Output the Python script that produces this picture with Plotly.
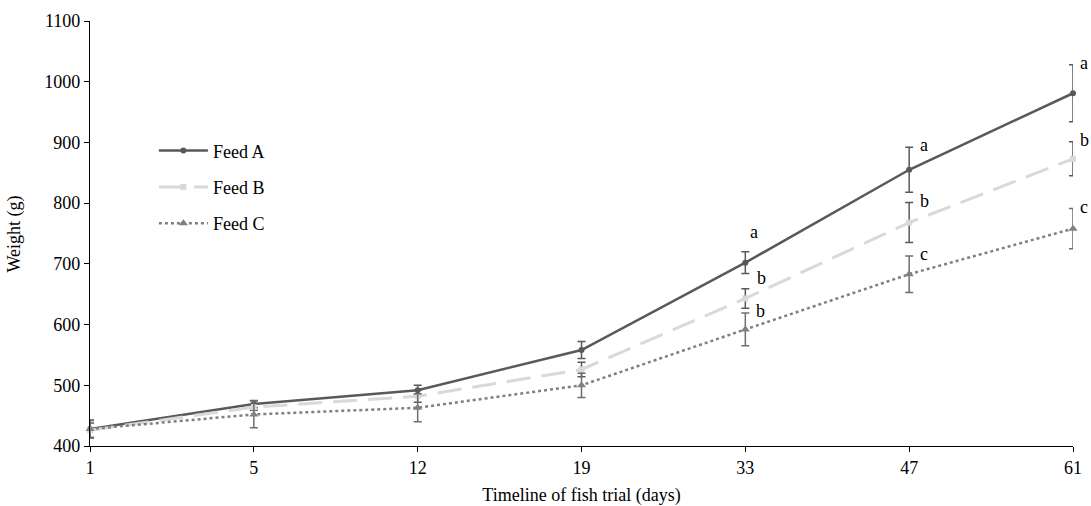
import plotly.graph_objects as go

days = ["1", "5", "12", "19", "33", "47", "61"]
feed_a = [428, 469, 492, 558, 702, 855, 981]
feed_a_err = [15, 6, 8, 14, 18, 37, 47]
feed_b = [426, 464, 482, 526, 643, 768, 873]
feed_b_err = [12, 5, 10, 12, 16, 33, 28]
feed_c = [428, 452, 463, 500, 592, 683, 758]
feed_c_err = [14, 22, 23, 20, 27, 30, 33]

letters_a = ["", "", "", "", "a", "a", "a"]
letters_b = ["", "", "", "", "b", "b", "b"]
letters_c = ["", "", "", "", "b", "c", "c"]

font_family = "Liberation Serif, Times New Roman, serif"
FS = 18

fig = go.Figure()

series = [
    ("Feed A", feed_a, feed_a_err, dict(color="#595959", width=2.5, dash="solid"),
     dict(symbol="circle", size=6, color="#595959"), "#595959"),
    ("Feed B", feed_b, feed_b_err, dict(color="#d9d9d9", width=3, dash="24px,11px"),
     dict(symbol="square", size=6, color="#d9d9d9"), "#595959"),
    ("Feed C", feed_c, feed_c_err, dict(color="#808080", width=2.5, dash="dot"),
     dict(symbol="triangle-up", size=8, color="#808080"), "#6e6e6e"),
]

for i, (name, vals, errs, line, marker, ecol) in enumerate(series):
    fig.add_trace(go.Scatter(
        x=days, y=vals, name=name, mode="lines+markers",
        line=line, marker=marker, legendgroup=f"g{i}",
        error_y=dict(type="data", array=errs, visible=True, color=ecol,
                     thickness=1.5, width=4),
        cliponaxis=False,
    ))

# significance letters placed next to the top of each error bar
ann = []
n = len(days)
for s, (vals, errs, letters) in enumerate([
    (feed_a, feed_a_err, letters_a),
    (feed_b, feed_b_err, letters_b),
    (feed_c, feed_c_err, letters_c),
]):
    for i, (v, e, t) in enumerate(zip(vals, errs, letters)):
        if not t:
            continue
        xs, ys = 15, 2
        if i == n - 1:
            xs = 11
        if s == 0 and i == 4:
            xs, ys = 9, 20
        elif s == 1 and i == 4:
            xs, ys = 16, 11
        ann.append(dict(x=i, y=v + e, text=t, showarrow=False, xref="x", yref="y",
                        xshift=xs, yshift=ys, yanchor="middle", xanchor="center",
                        font=dict(family=font_family, size=FS, color="black")))

# y-axis title, placed close to the tick labels as in the reference
ann.append(dict(text="Weight (g)", x=-0.0763, y=0.5, xref="paper", yref="paper",
                textangle=-90, showarrow=False, xanchor="center", yanchor="middle",
                font=dict(family=font_family, size=FS, color="black")))

fig.update_layout(
    width=1091, height=506,
    margin=dict(l=90, r=18, t=21, b=60),
    paper_bgcolor="white", plot_bgcolor="white",
    font=dict(family=font_family, size=FS, color="black"),
    showlegend=True,
    legend=dict(x=0.065, y=0.738, xanchor="left", yanchor="top",
                bgcolor="rgba(0,0,0,0)", tracegroupgap=10, itemwidth=49,
                font=dict(family=font_family, size=FS, color="black")),
    annotations=ann,
    xaxis=dict(type="category", range=[0, 6], showgrid=False, zeroline=False,
               automargin=False,
               showline=True, linecolor="black", linewidth=1.2,
               ticks="outside", ticklen=5, tickcolor="black",
               tickfont=dict(family=font_family, size=FS),
               title=dict(text="Timeline of fish trial (days)", standoff=21,
                          font=dict(family=font_family, size=FS))),
    yaxis=dict(range=[400, 1100], dtick=100, showgrid=False, zeroline=False,
               automargin=False,
               showline=True, linecolor="black", linewidth=1.2,
               ticks="outside", ticklen=5, tickcolor="black",
               tickfont=dict(family=font_family, size=FS)),
)

fig.write_html("out.html",
               config={"displayModeBar": False},
               post_script="document.body.style.margin='0';document.body.style.overflow='hidden';")
